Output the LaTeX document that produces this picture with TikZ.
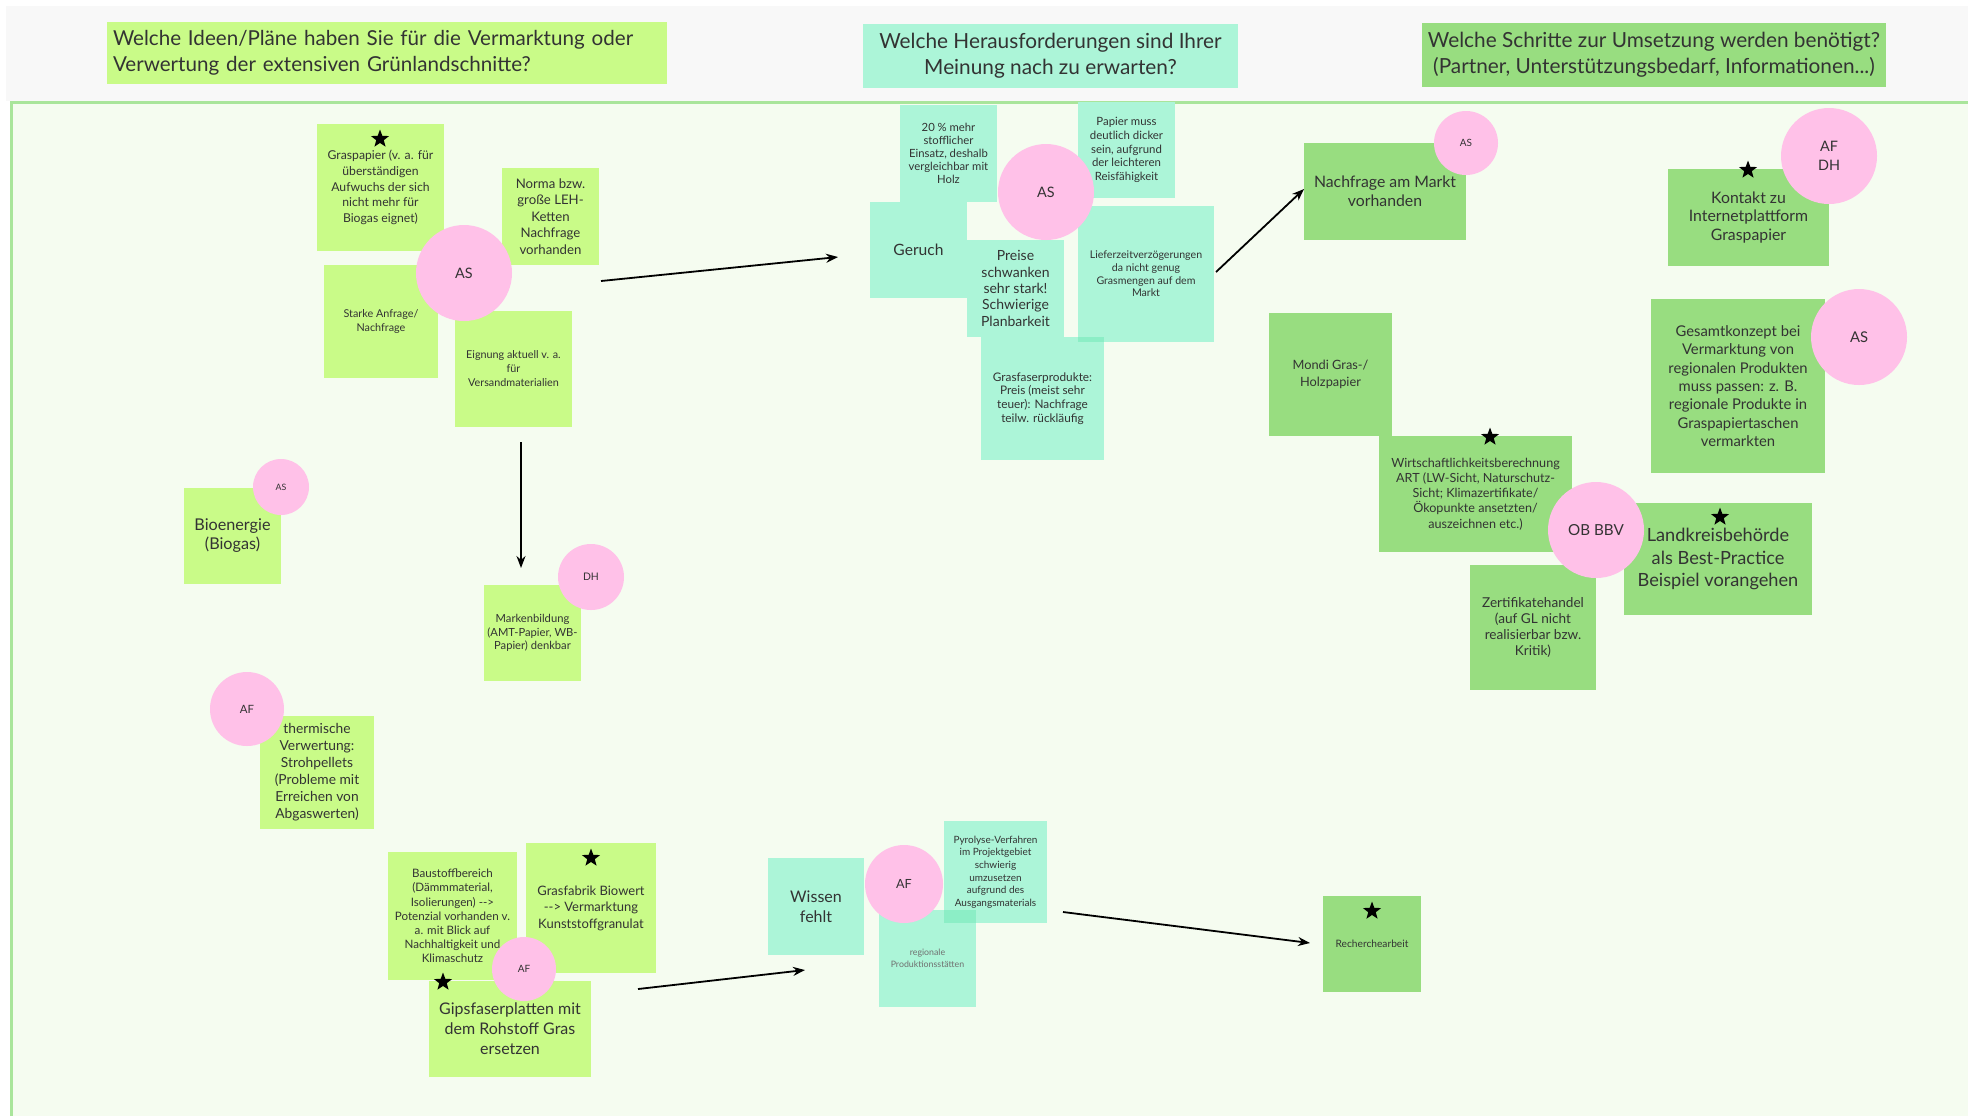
\documentclass[tikz,border=0pt]{standalone}
\usepackage{fontspec}
\setmainfont{Lato}
\usetikzlibrary{arrows.meta,shapes.geometric}
\definecolor{lime}{HTML}{C9FB88}
\definecolor{aqua}{HTML}{ACF5D8}
\definecolor{aquadark}{HTML}{8CEEC6}
\definecolor{grn}{HTML}{98DD80}
\definecolor{pink}{HTML}{FFC1E8}
\definecolor{bgmain}{HTML}{F5FCF0}
\definecolor{bghead}{HTML}{F8F8F8}
\definecolor{bord}{HTML}{A9E59B}
\definecolor{txt}{HTML}{333333}
\definecolor{txtlight}{HTML}{707070}
\newcommand\fs[2]{\fontsize{#1}{#2}\selectfont}
\newcommand\dd{\mbox{-}\mbox{-}>}
\newcommand\stick[7]{\node[sticky,#6,minimum width={(#4-#2)*0.5pt},minimum height={(#5-#3)*0.5pt}] (#1) at ({(#2+#4)/2},{(#3+#5)/2}) {#7};}
\tikzset{
  sticky/.style={rectangle, inner sep=0pt, align=center, text=txt},
  dot/.style={circle, fill=pink, inner sep=0pt, align=center, text=txt},
  starmark/.style={star, star points=5, star point ratio=2.4, fill=black, inner sep=0pt, minimum size=9.5pt},
  arr/.style={-{Stealth[length=6pt,width=4.5pt]}, line width=0.9pt, black},
}
\begin{document}
\begin{tikzpicture}[x=0.5pt,y=-0.5pt]
\useasboundingbox (0,0) rectangle (1968,1116);
\fill[white] (0,0) rectangle (1968,1116);
\fill[bghead] (6,6) rectangle (1968,101);
\fill[bgmain] (11,101) rectangle (1968,1116);
\draw[bord, line width=1.5pt] (11.5,1116) -- (11.5,102.5) -- (1968,102.5);

% headers
\node[sticky, fill=lime, minimum width=280pt, minimum height=31pt, text width=274pt, align=left, font=\fs{10.3}{13}] (h1) at (387,53) {Welche Ideen/Pläne haben Sie für die Vermarktung oder\\Verwertung der extensiven Grünlandschnitte?};
\stick{h2}{863}{24}{1238}{88}{fill=aqua,font=\fs{10.4}{13}}{Welche Herausforderungen sind Ihrer\\Meinung nach zu erwarten?}
\stick{h3}{1422}{23}{1886}{87}{fill=grn,font=\fs{10.4}{13}}{Welche Schritte zur Umsetzung werden benötigt?\\(Partner, Unterstützungsbedarf, Informationen...)}

% ideas
\stick{grasp}{317}{124}{444}{251}{fill=lime,font=\fs{6.1}{7.8}}{Graspapier (v. a. für\\überständigen\\Aufwuchs der sich\\nicht mehr für\\Biogas eignet)}
\stick{norma}{502}{168}{599}{265}{fill=lime,font=\fs{6.6}{8.2}}{Norma bzw.\\große LEH-\\Ketten\\Nachfrage\\vorhanden}
\stick{starke}{324}{265}{438}{378}{fill=lime,font=\fs{5.4}{7}}{Starke Anfrage/\\Nachfrage}
\stick{eignung}{455}{311}{572}{427}{fill=lime,font=\fs{5.4}{7}}{Eignung aktuell v. a.\\für\\Versandmaterialien}
\stick{bio}{184}{488}{281}{584}{fill=lime,font=\fs{8.1}{9.5}}{Bioenergie\\(Biogas)}
\stick{marken}{484}{585}{581}{681}{fill=lime,font=\fs{5.6}{6.8}}{Markenbildung\\(AMT-Papier, WB-\\Papier) denkbar}
\stick{therm}{260}{716}{374}{829}{fill=lime,font=\fs{6.9}{8.5}}{thermische\\Verwertung:\\Strohpellets\\(Probleme mit\\Erreichen von\\Abgaswerten)}
\stick{baustoff}{388}{852}{517}{980}{fill=lime,font=\fs{5.8}{7.1}}{Baustoffbereich\\(Dämmmaterial,\\Isolierungen) \dd\\Potenzial vorhanden v.\\a. mit Blick auf\\Nachhaltigkeit und\\Klimaschutz}
\stick{grasfab}{526}{843}{656}{973}{fill=lime,font=\fs{6.5}{8.3}}{Grasfabrik Biowert\\\dd{} Vermarktung\\Kunststoffgranulat}
\stick{gips}{429}{981}{591}{1077}{fill=lime,font=\fs{8}{10}}{Gipsfaserplatten mit\\dem Rohstoff Gras\\ersetzen}

% challenges
\stick{p20}{900}{105}{997}{202}{fill=aqua,font=\fs{5.65}{6.5}}{20 \% mehr\\stofflicher\\Einsatz, deshalb\\vergleichbar mit\\Holz}
\stick{papier}{1078}{102}{1175}{198}{fill=aqua,font=\fs{5.7}{6.8}}{Papier muss\\deutlich dicker\\sein, aufgrund\\der leichteren\\Reisfähigkeit}
\stick{geruch}{870}{202}{967}{298}{fill=aqua,font=\fs{7.8}{9.5}}{Geruch}
\stick{preise}{967}{240}{1064}{337}{fill=aqua,font=\fs{7}{8.2}}{Preise\\schwanken\\sehr stark!\\Schwierige\\Planbarkeit}
\stick{liefer}{1078}{206}{1214}{342}{fill=aqua,font=\fs{5.3}{6.3}}{Lieferzeitverzögerungen\\da nicht genug\\Grasmengen auf dem\\Markt}
\stick{grasfaser}{981}{337}{1104}{460}{fill=aqua,font=\fs{5.9}{6.8}}{Grasfaserprodukte:\\Preis (meist sehr\\teuer): Nachfrage\\teilw. rückläufig}
\fill[aquadark] (1078,337) rectangle (1104,342);
\stick{wissen}{768}{858}{864}{955}{fill=aqua,font=\fs{8}{10}}{Wissen\\fehlt}
\stick{regional}{879}{910}{976}{1007}{fill=aqua,text=txtlight,font=\fs{4.4}{6}}{regionale\\Produktionsstätten}
\stick{pyro}{944}{821}{1047}{923}{fill=aqua,font=\fs{5}{6.3}}{Pyrolyse-Verfahren\\im Projektgebiet\\schwierig\\umzusetzen\\aufgrund des\\Ausgangsmaterials}
\fill[aquadark] (944,910) rectangle (976,923);

% steps
\stick{nach}{1304}{143}{1466}{240}{fill=grn,font=\fs{7.9}{9.5}}{Nachfrage am Markt\\vorhanden}
\stick{kontakt}{1668}{169}{1829}{266}{fill=grn,font=\fs{7.9}{9.3}}{Kontakt zu\\Internetplattform\\Graspapier}
\stick{gesamt}{1651}{299}{1825}{473}{fill=grn,font=\fs{7.4}{9.2}}{Gesamtkonzept bei\\Vermarktung von\\regionalen Produkten\\muss passen: z. B.\\regionale Produkte in\\Graspapiertaschen\\vermarkten}
\stick{mondi}{1269}{313}{1392}{436}{fill=grn,font=\fs{6.4}{8.8}}{Mondi Gras-/\\Holzpapier}
\stick{wirt}{1379}{436}{1572}{552}{fill=grn,font=\fs{6.3}{7.6}}{Wirtschaftlichkeitsberechnung\\ART (LW-Sicht, Naturschutz-\\Sicht; Klimazertifikate/\\Ökopunkte ansetzten/\\auszeichnen etc.)}
\stick{land}{1624}{503}{1812}{615}{fill=grn,font=\fs{9.1}{11.3}}{Landkreisbehörde\\als Best-Practice\\Beispiel vorangehen}
\stick{zert}{1470}{565}{1596}{690}{fill=grn,font=\fs{6.8}{8}}{Zertifikatehandel\\(auf GL nicht\\realisierbar bzw.\\Kritik)}
\stick{rech}{1323}{896}{1421}{992}{fill=grn,font=\fs{5.1}{6.5}}{Recherchearbeit}

% stars
\node[starmark] (s1) at (380,139) {};
\node[starmark] (s2) at (591,858) {};
\node[starmark] (s3) at (443,982) {};
\node[starmark] (s4) at (1748,170) {};
\node[starmark] (s5) at (1490,437) {};
\node[starmark] (s6) at (1720,517) {};
\node[starmark] (s7) at (1372,911) {};

% circles
\node[dot, minimum size=48pt, font=\fs{7.2}{9}] (c1) at (464,273) {AS};
\node[dot, minimum size=28pt, font=\fs{4.4}{5}] (c2) at (281,487) {AS};
\node[dot, minimum size=33pt, font=\fs{5.2}{6}] (c3) at (591,577) {DH};
\node[dot, minimum size=37pt, font=\fs{5.7}{7}] (c4) at (247,709) {AF};
\node[dot, minimum size=32pt, font=\fs{5}{6}] (c5) at (524,969) {AF};
\node[dot, minimum size=48pt, font=\fs{7.2}{9}] (c6) at (1046,192) {AS};
\node[dot, minimum size=39pt, font=\fs{6.3}{7}] (c7) at (904,884) {AF};
\node[dot, minimum size=32pt, font=\fs{5}{6}] (c8) at (1466,143) {AS};
\node[dot, minimum size=48pt, font=\fs{7.2}{9.5}] (c9) at (1829,156) {AF\\DH};
\node[dot, minimum size=48pt, font=\fs{7.4}{9}] (c10) at (1859,337) {AS};
\node[dot, minimum size=48pt, font=\fs{7.6}{9}] (c11) at (1596,530) {OB BBV};

% arrows
\coordinate (a1s) at (601,281); \coordinate (a1e) at (838,257);
\coordinate (a2s) at (521,442); \coordinate (a2e) at (521,568);
\coordinate (a3s) at (1216,272); \coordinate (a3e) at (1304,189);
\coordinate (a4s) at (638,989); \coordinate (a4e) at (805,970);
\coordinate (a5s) at (1063,912); \coordinate (a5e) at (1310,943);
\draw[arr] (a1s) -- (a1e);
\draw[arr] (a2s) -- (a2e);
\draw[arr] (a3s) -- (a3e);
\draw[arr] (a4s) -- (a4e);
\draw[arr] (a5s) -- (a5e);
\end{tikzpicture}
\end{document}
